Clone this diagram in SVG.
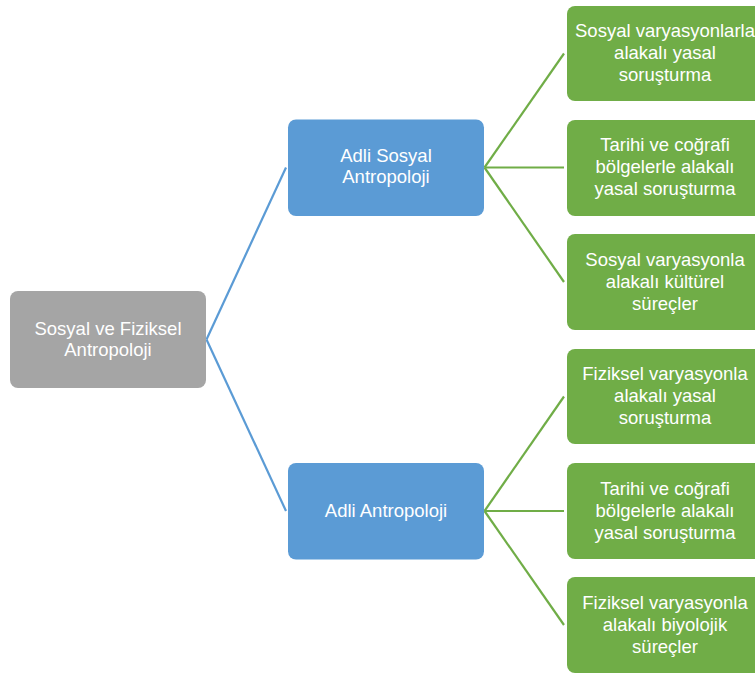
<svg xmlns="http://www.w3.org/2000/svg" width="755" height="675" viewBox="0 0 755 675">
<style>
.box{stroke:none}
.gray{fill:#A5A5A5}
.blue{fill:#5B9BD5}
.green{fill:#70AD47}
text{font-family:"Liberation Sans",Arial,sans-serif;font-size:18.5px;fill:#FFFFFF;text-anchor:middle}
.cb{stroke:#5B9BD5;stroke-width:2.2;fill:none}
.cg{stroke:#70AD47;stroke-width:2.2;fill:none}
</style>
<rect width="755" height="675" fill="#FFFFFF"/>
<g id="connectors">
<line class="cb" x1="206.5" y1="339.5" x2="286" y2="167.5"/>
<line class="cb" x1="206.5" y1="339.5" x2="286" y2="511"/>
<line class="cg" x1="484.5" y1="167.5" x2="564" y2="53.5"/>
<line class="cg" x1="484.5" y1="167.5" x2="564" y2="167.5"/>
<line class="cg" x1="484.5" y1="167.5" x2="564" y2="282"/>
<line class="cg" x1="484.5" y1="511" x2="564" y2="396.5"/>
<line class="cg" x1="484.5" y1="511" x2="564" y2="511"/>
<line class="cg" x1="484.5" y1="511" x2="564" y2="625"/>
</g>
<g id="root">
<rect class="box gray" x="10" y="291" width="196" height="97" rx="8"/>
<text x="108" y="334.5">Sosyal ve Fiziksel</text>
<text x="108" y="356">Antropoloji</text>
</g>
<g id="adli-sosyal">
<rect class="box blue" x="288" y="119.5" width="196" height="96.5" rx="8"/>
<text x="386" y="161.5">Adli Sosyal</text>
<text x="386" y="183">Antropoloji</text>
</g>
<g id="adli">
<rect class="box blue" x="288" y="463" width="196" height="96.5" rx="8"/>
<text x="386" y="517">Adli Antropoloji</text>
</g>
<g id="g1">
<rect class="box green" x="567" y="6" width="196" height="95" rx="8"/>
<text x="665" y="37">Sosyal varyasyonlarla</text>
<text x="665" y="59">alakalı yasal</text>
<text x="665" y="81">soruşturma</text>
</g>
<g id="g2">
<rect class="box green" x="567" y="120" width="196" height="96" rx="8"/>
<text x="665" y="151">Tarihi ve coğrafi</text>
<text x="665" y="173">bölgelerle alakalı</text>
<text x="665" y="195">yasal soruşturma</text>
</g>
<g id="g3">
<rect class="box green" x="567" y="234" width="196" height="96" rx="8"/>
<text x="665" y="265.5">Sosyal varyasyonla</text>
<text x="665" y="287.5">alakalı kültürel</text>
<text x="665" y="309.5">süreçler</text>
</g>
<g id="g4">
<rect class="box green" x="567" y="349" width="196" height="95" rx="8"/>
<text x="665" y="380">Fiziksel varyasyonla</text>
<text x="665" y="402">alakalı yasal</text>
<text x="665" y="424">soruşturma</text>
</g>
<g id="g5">
<rect class="box green" x="567" y="463" width="196" height="96" rx="8"/>
<text x="665" y="494.5">Tarihi ve coğrafi</text>
<text x="665" y="516.5">bölgelerle alakalı</text>
<text x="665" y="538.5">yasal soruşturma</text>
</g>
<g id="g6">
<rect class="box green" x="567" y="577" width="196" height="96" rx="8"/>
<text x="665" y="608.5">Fiziksel varyasyonla</text>
<text x="665" y="630.5">alakalı biyolojik</text>
<text x="665" y="652.5">süreçler</text>
</g>
</svg>
